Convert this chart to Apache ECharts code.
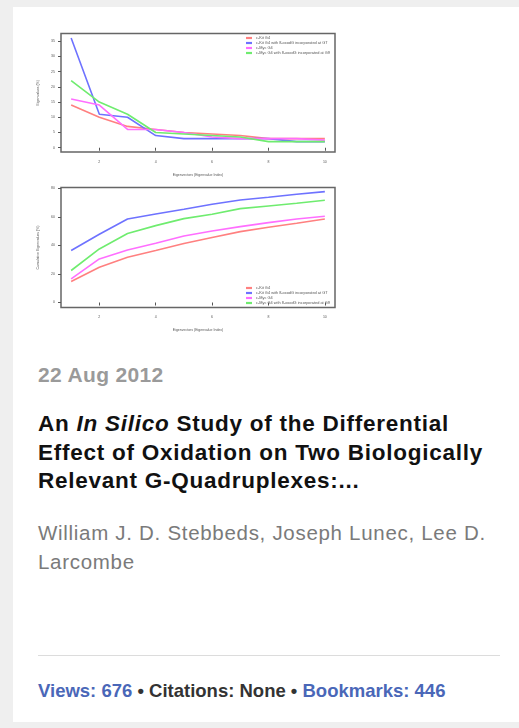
<!DOCTYPE html>
<html>
<head>
<meta charset="utf-8">
<script src="https://cdn.jsdelivr.net/npm/echarts@6/dist/echarts.min.js"></script>
<style>
  html, body { margin:0; padding:0; background:#efefef; width:519px; height:728px; overflow:hidden; }
  #card { position:absolute; left:13px; top:7px; width:506px; height:715px; background:#fff; }
  #chart { position:absolute; left:0; top:0; width:360px; height:340px; }
  .t { position:absolute; left:38px; font-family:"Liberation Sans", Arial, Helvetica, sans-serif; white-space:nowrap; }
  #date { top:361px; font-size:21px; line-height:28px; font-weight:bold; color:#9a9a9a; letter-spacing:0.35px; }
  #title { top:410px; font-size:22.5px; line-height:28.5px; font-weight:bold; color:#111; letter-spacing:0.75px; }
  #authors { top:519px; font-size:20.5px; line-height:28.5px; color:#7a7a7a; letter-spacing:0.7px; }
  #sep { position:absolute; left:38px; top:655px; width:462px; height:0; border-top:1.5px solid #dcdcdc; }
  #footer { top:679px; font-size:18.5px; line-height:24px; font-weight:bold; color:#333; }
  #footer .b { color:#4a67b8; }
</style>
</head>
<body>
<div id="card"></div>
<div id="chart"></div>
<div class="t" id="date">22 Aug 2012</div>
<div class="t" id="title">An <i>In Silico</i> Study of the Differential<br>Effect of Oxidation on Two Biologically<br>Relevant G-Quadruplexes:...</div>
<div class="t" id="authors">William J. D. Stebbeds, Joseph Lunec, Lee D.<br>Larcombe</div>
<div id="sep"></div>
<div class="t" id="footer"><span class="b">Views: 676</span> • Citations: None • <span class="b">Bookmarks: 446</span></div>
<script>
// ---- data ----
const seriesNames = [
  "c-Kit G4",
  "c-Kit G4 with 8-oxodG incorporated at G7",
  "c-Myc G4",
  "c-Myc G4 with 8-oxodG incorporated at G9"
];
const eigenIndex = [1, 2, 3, 4, 5, 6, 7, 8, 9, 10];
// Eigenvalue (%) per eigenvector
const evKit    = [14, 10, 7, 6, 5, 4.5, 4, 3, 3, 3];
const evKitOx  = [36, 11, 10, 4, 3, 3, 3, 3, 2, 2];
const evMyc    = [16, 14, 6, 6, 5, 3.5, 3, 3, 3, 2.5];
const evMycOx  = [22, 15, 11, 5, 4.5, 4, 3.5, 2, 2, 2];
// Cumulative eigenvalues (%)
const cumKit   = [14.7, 24.7, 31.7, 36.4, 41.3, 45.5, 49.6, 52.7, 55.5, 58.5];
const cumKitOx = [36.4, 47.8, 58.5, 62.0, 65.3, 68.8, 71.8, 73.7, 75.8, 77.6];
const cumMyc   = [16.5, 30.5, 36.8, 41.5, 46.6, 50.1, 53.1, 55.9, 58.5, 60.4];
const cumMycOx = [22.4, 37.5, 48.3, 53.8, 58.7, 61.8, 65.7, 67.6, 69.5, 71.6];
// tick labels
const xTicks = [2, 4, 6, 8, 10];
const yTicksTop = [0, 5, 10, 15, 20, 25, 30, 35];
const yTicksBottom = [0, 20, 40, 60, 80];

const colors = ["#ff8080", "#6e72ff", "#ff6eff", "#6fec6f"];
const topData = [evKit, evKitOx, evMyc, evMycOx];
const botData = [cumKit, cumKitOx, cumMyc, cumMycOx];

const chart = echarts.init(document.getElementById('chart'), null, {renderer:'canvas'});
const axisFont = { fontSize: 3.5, color: '#555', fontFamily: 'Liberation Sans' };
function xAx(gi) {
  return {
    type:'value', gridIndex: gi, min: 0.64, max: 10.36,
    axisLine:{show:false}, splitLine:{show:false},
    axisTick:{show:true, customValues:xTicks, length:3, inside:false, lineStyle:{color:'#555', width:1}},
    axisLabel:Object.assign({customValues:xTicks, margin:8}, axisFont),
    name:'Eigenvectors (Eigenvalue Index)', nameLocation:'middle', nameGap:21,
    nameTextStyle: axisFont
  };
}
function yAx(gi, min, max, ticks, name) {
  return {
    type:'value', gridIndex: gi, min: min, max: max,
    axisLine:{show:false}, splitLine:{show:false},
    axisTick:{show:true, customValues:ticks, length:3, inside:false, lineStyle:{color:'#555', width:1}},
    axisLabel:Object.assign({customValues:ticks, margin:6}, axisFont),
    name:name, nameLocation:'middle', nameGap:21, nameRotate:90,
    nameTextStyle: axisFont
  };
}
const series = [];
seriesNames.forEach((n, i) => {
  series.push({ name:n, type:'line', xAxisIndex:0, yAxisIndex:0, showSymbol:false, silent:true,
    data: eigenIndex.map((x, k) => [x, topData[i][k]]),
    lineStyle:{color:colors[i], width:1.6}, itemStyle:{color:colors[i]} });
  series.push({ name:n, type:'line', xAxisIndex:1, yAxisIndex:1, showSymbol:false, silent:true,
    data: eigenIndex.map((x, k) => [x, botData[i][k]]),
    lineStyle:{color:colors[i], width:1.6}, itemStyle:{color:colors[i]} });
});
const legendBase = {
  orient:'vertical', itemWidth:6, itemHeight:2.2, itemGap:1, icon:'rect', padding:0,
  data: seriesNames, selectedMode:false,
  textStyle:{fontSize:3.9, lineHeight:3, color:'#555', padding:[0,0,0,-1], fontFamily:'Liberation Sans'}
};
chart.setOption({
  animation:false,
  grid:[
    {left:61, top:33.5, width:274, height:118.5, show:true, borderColor:'#666', borderWidth:1.5},
    {left:61, top:187.5, width:274, height:120, show:true, borderColor:'#666', borderWidth:1.5}
  ],
  xAxis:[xAx(0), xAx(1)],
  yAxis:[
    yAx(0, -1.4, 37.5, yTicksTop, 'Eigenvalues (%)'),
    yAx(1, -3.5, 80.5, yTicksBottom, 'Cumulative Eigenvalues (%)')
  ],
  legend:[
    Object.assign({left:246, top:36}, legendBase),
    Object.assign({left:246, top:286}, legendBase)
  ],
  series: series
});
</script>
</body>
</html>
